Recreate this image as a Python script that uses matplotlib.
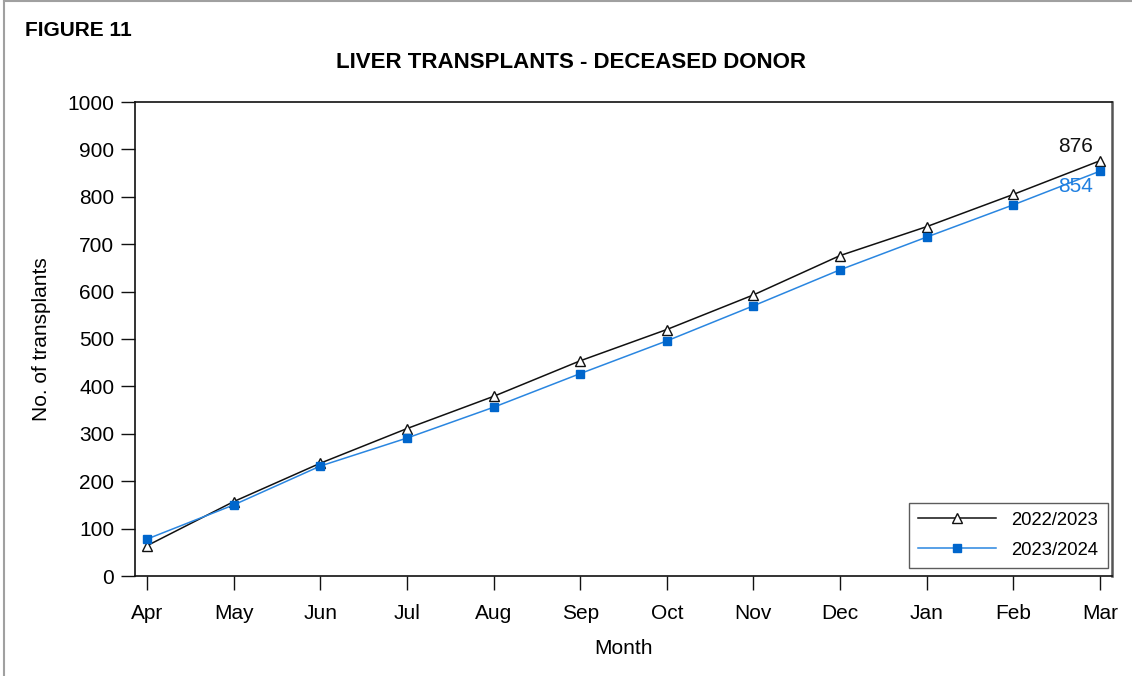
import matplotlib
matplotlib.use("Agg")
import matplotlib.pyplot as plt
from matplotlib.lines import Line2D

months = ["Apr", "May", "Jun", "Jul", "Aug", "Sep", "Oct", "Nov", "Dec", "Jan", "Feb", "Mar"]
series_2223 = [64, 157, 238, 311, 379, 454, 520, 593, 676, 737, 805, 876]
series_2324 = [78, 150, 232, 291, 356, 427, 496, 570, 646, 715, 783, 854]
label_2223 = "2022/2023"
label_2324 = "2023/2024"

plt.rcParams["font.family"] = ["Liberation Sans", "DejaVu Sans"]

fig = plt.figure(figsize=(11.32, 6.76), dpi=100)
ax = fig.add_axes([135 / 1132, 100 / 676, 977 / 1132, 474 / 676])

# grey frame round the figure (top and left only visible)
fig.add_artist(Line2D([0.0035, 0.0035], [0, 0.9985], transform=fig.transFigure,
                      color="#a0a0a0", lw=1.5))
fig.add_artist(Line2D([0.0035, 1], [0.9985, 0.9985], transform=fig.transFigure,
                      color="#a0a0a0", lw=1.5))

x = list(range(len(months)))
black = "#111111"
blue_line = "#2a86e0"
blue_mark = "#0066cc"

ax.plot(x, series_2223, color=black, lw=1.1, marker="^", ms=7,
        markerfacecolor="white", markeredgecolor=black, markeredgewidth=1.0,
        label=label_2223)
ax.plot(x, series_2324, color=blue_line, lw=1.1, marker="s", ms=5.5,
        markerfacecolor=blue_mark, markeredgecolor=blue_mark, label=label_2324)

ax.text(x[-1] - 0.08, series_2223[-1] + 10, str(series_2223[-1]), ha="right", va="bottom",
        fontsize=15, color=black)
ax.text(x[-1] - 0.08, series_2324[-1] - 12, str(series_2324[-1]), ha="right", va="top",
        fontsize=15, color="#1f7fe0")

ax.set_xlim(-0.14, 11.14)
ax.set_ylim(0, 1000)
ax.set_yticks(range(0, 1001, 100))
ax.set_xticks(x)
ax.set_xticklabels(months)
ax.tick_params(axis="both", direction="out", length=10, width=1, color=black,
               labelsize=15, pad=5)
ax.tick_params(axis="x", pad=10)

for side in ["left", "bottom", "top"]:
    ax.spines[side].set_color(black)
    ax.spines[side].set_linewidth(1.2)
ax.spines["right"].set_color("#555555")
ax.spines["right"].set_linewidth(1.8)

ax.set_ylabel("No. of transplants", fontsize=15, labelpad=12)
ax.set_xlabel("Month", fontsize=15, labelpad=12)

leg = ax.legend(loc="lower right", bbox_to_anchor=(0.9955, 0.017), fontsize=13.3,
                frameon=True, fancybox=False, edgecolor="#333333", handlelength=4.2,
                handletextpad=0.85, borderpad=0.5, labelspacing=0.7, borderaxespad=0)
leg.get_frame().set_linewidth(1.0)

fig.text(0.504, 1 - 63 / 676, "LIVER TRANSPLANTS - DECEASED DONOR", ha="center",
         va="center", fontsize=16, fontweight="bold")
fig.text(0.022, 1 - 31 / 676, "FIGURE 11", ha="left", va="center", fontsize=15,
         fontweight="bold")

fig.savefig("out.png", dpi=100)
